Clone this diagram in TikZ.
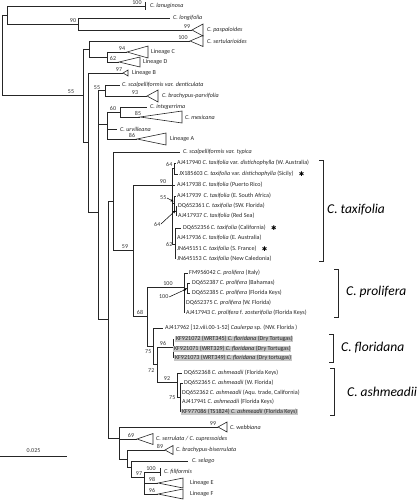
\documentclass[tikz,border=0pt]{standalone}
\usepackage{fontspec}
\setmainfont{Carlito}
\newfontfamily\symfont{DejaVu Sans}
\usetikzlibrary{arrows.meta,positioning}
\tikzset{
  br/.style={line width=0.6pt, draw=black!85},
  tip/.style={anchor=west, inner sep=0pt, font=\fontsize{6.1}{6.5}\selectfont, text=black!85},
  hltip/.style={tip, fill=black!22, inner xsep=0.8pt, inner ysep=0.6pt},
  bs/.style={anchor=south, inner sep=0.5pt, font=\fontsize{6}{6.5}\selectfont, text=black!80},
  bsl/.style={bs, anchor=east},
  big/.style={anchor=west, inner sep=0pt, font=\fontsize{13.5}{15}\selectfont\itshape},
  star/.style={inner sep=0pt, font=\symfont\fontsize{6.5}{6.5}\selectfont},
  pointer/.style={-{Stealth[length=3pt,width=2.6pt]}, line width=0.5pt}
}
\begin{document}
\begin{tikzpicture}[x=1pt,y=-1pt]
  \useasboundingbox (0,0) rectangle (416,500);
  % backbone
  \draw[br] (2,15) -- (2,95);
  \draw[br] (2,15) -- (7,15);
  \draw[br] (7,6) -- (7,24);
  \draw[br] (7,6) -- (145,6);
  \draw[br] (145,2) -- (145,10);
  \draw[br] (7,24) -- (78,24);
  \draw[br] (78,18) -- (78,30);
  \draw[br] (78,18) -- (170,18);
  \draw[br] (78,30) -- (192,30);
  \draw[br] (192,30) -- (203,24) -- (203,36) -- cycle;
  \draw[br] (2,95) -- (83,95);
  \draw[br] (83,49) -- (83,142);
  \draw[br] (83,49) -- (89,49);
  \draw[br] (89,41) -- (89,57);
  \draw[br] (89,41) -- (190,41);
  \draw[br] (190,41) -- (203,35.5) -- (203,46.5) -- cycle;
  \draw[br] (89,57) -- (107,57);
  \draw[br] (107,52) -- (107,62);
  \draw[br] (107,52) -- (127,52);
  \draw[br] (127,52) -- (148,46) -- (148,58) -- cycle;
  \draw[br] (107,62) -- (119,62);
  \draw[br] (119,62) -- (140,57) -- (140,67) -- cycle;
  \draw[br] (83,142) -- (88,142);
  \draw[br] (88,73) -- (88,212);
  \draw[br] (88,73) -- (123,73);
  \draw[br] (123,73) -- (128,70) -- (128,76) -- cycle;
  \draw[br] (88,212) -- (98,212);
  \draw[br] (98,90.5) -- (98,319);
  \draw[br] (98,90.5) -- (105,90.5);
  \draw[br] (105,85) -- (105,96);
  \draw[br] (105,85) -- (120,85);
  \draw[br] (105,96) -- (147,96);
  \draw[br] (147,96) -- (158,90) -- (158,102) -- cycle;
  \draw[br] (98,124) -- (107,124);
  \draw[br] (107,112) -- (107,139);
  \draw[br] (107,112) -- (120,112);
  \draw[br] (120,107) -- (120,117);
  \draw[br] (120,107) -- (147,107);
  \draw[br] (120,117) -- (140,117);
  \draw[br] (140,117) -- (182,111) -- (182,123) -- cycle;
  \draw[br] (107,129) -- (117,129);
  \draw[br] (107,139) -- (137,139);
  \draw[br] (137,139) -- (166,133) -- (166,145) -- cycle;
  \draw[br] (98,319) -- (108,319);
  \draw[br] (108,201) -- (108,438);
  \draw[br] (108,201) -- (113,201);
  \draw[br] (113,152) -- (113,250);
  \draw[br] (113,152) -- (180,152);
  \draw[br] (113,250) -- (133,250);
  \draw[br] (133,185) -- (133,316);
  % taxifolia
  \draw[br] (133,185) -- (172,185);
  \draw[br] (172,168.5) -- (172,244);
  \draw[br] (172,168.5) -- (174,168.5);
  \draw[br] (174,163) -- (174,174);
  \draw[br] (174,163) -- (175.5,163);
  \draw[br] (174,174) -- (178,174);
  \draw[br] (172,185) -- (175,185);
  \draw[br] (172,203.5) -- (174,203.5);
  \draw[br] (174,196) -- (174,211);
  \draw[br] (174,196) -- (175.5,196);
  \draw[br] (174,211) -- (176,211);
  \draw[br] (176,206) -- (176,216);
  \draw[br] (172,244) -- (175,244);
  \draw[br] (175,228) -- (175,259);
  \draw[br] (175,228) -- (181,228);
  % prolifera
  \draw[br] (133,316) -- (147,316);
  \draw[br] (147,287) -- (147,346);
  \draw[br] (147,287) -- (184,287);
  \draw[br] (184,273) -- (184,313);
  \draw[br] (184,273) -- (188,273);
  \draw[br] (184,288) -- (187,288);
  \draw[br] (187,283) -- (187,293);
  \draw[br] (187,283) -- (190,283);
  \draw[br] (187,293) -- (190,293);
  % floridana, ashmeadii
  \draw[br] (147,346) -- (153,346);
  \draw[br] (153,328) -- (153,364);
  \draw[br] (153,328) -- (163,328);
  \draw[br] (153,364) -- (157,364);
  \draw[br] (157,347) -- (157,382);
  \draw[br] (157,347) -- (173,347);
  \draw[br] (173,339) -- (173,358);
  \draw[br] (157,382) -- (177,382);
  \draw[br] (177,373) -- (177,397);
  \draw[br] (177,373) -- (182,373);
  \draw[br] (177,397) -- (180,397);
  \draw[br] (180,383) -- (180,412);
  \draw[br] (180,383) -- (183,383);
  % lower clades
  \draw[br] (108,438) -- (119,438);
  \draw[br] (119,427) -- (119,459);
  \draw[br] (119,427) -- (218,427);
  \draw[br] (218,427) -- (227,422) -- (227,432) -- cycle;
  \draw[br] (119,439) -- (137,439);
  \draw[br] (137,439) -- (153,433.5) -- (153,444.5) -- cycle;
  \draw[br] (119,459) -- (127,459);
  \draw[br] (127,450) -- (127,467);
  \draw[br] (127,450) -- (165,450);
  \draw[br] (165,450) -- (173,445.5) -- (173,454.5) -- cycle;
  \draw[br] (127,467) -- (131,467);
  \draw[br] (131,461) -- (131,477);
  \draw[br] (131,461) -- (188,461);
  \draw[br] (131,477) -- (144,477);
  \draw[br] (144,472) -- (144,494);
  \draw[br] (144,472) -- (160,472);
  \draw[br] (160,468) -- (160,476);
  \draw[br] (144,483) -- (158,483);
  \draw[br] (158,483) -- (183,478) -- (183,488) -- cycle;
  \draw[br] (144,494) -- (158,494);
  \draw[br] (158,494) -- (183,489) -- (183,499) -- cycle;
  % scale bar
  \draw[br] (0,456) -- (67,456);
  \node[bs] (sc) at (33.5,453) {0.025};

  % tip labels, upper part
  \node[tip] (lan) at (150,6) {\itshape C. lanuginosa};
  \node[tip] (lon) at (173,18) {\itshape C. longifolia};
  \node[tip] (pas) at (207,30) {\itshape C. paspaloides};
  \node[tip] (ser) at (207,41) {\itshape C. sertularioides};
  \node[tip] (linC) at (151,52) {Lineage C};
  \node[tip] (linD) at (143,62) {Lineage D};
  \node[tip] (linB) at (132,73) {Lineage B};
  \node[tip] (den) at (122,85) {\itshape C. scalpelliformis var. denticulata};
  \node[tip] (bpa) at (162,96) {\itshape C. brachypus-parvifolia};
  \node[tip] (int) at (150,107) {\itshape C. integerrima};
  \node[tip] (mex) at (185,117) {\itshape C. mexicana};
  \node[tip] (urv) at (120,129) {\itshape C. urvilleana};
  \node[tip] (linA) at (170,139) {Lineage A};
  \node[tip] (typ) at (183,152) {\itshape C. scalpelliformis var. typica};
  % taxifolia tips
  \node[tip] (tx1) at (177,163) {AJ417940 \textit{C. taxifolia} var. \textit{distichophylla} (W. Australia)};
  \node[tip] (tx2) at (179,174) {JX185603 \textit{C. taxifolia} var. \textit{distichophylla} (Sicily)};
  \node[tip] (tx3) at (177,185) {AJ417938 \textit{C. taxifolia} (Puerto Rico)};
  \node[tip] (tx4) at (177,196) {AJ417939\, \textit{C. taxifolia} (E. South Africa)};
  \node[tip] (tx5) at (178,206) {DQ652361 \textit{C. taxifolia} (SW. Florida)};
  \node[tip] (tx6) at (178,216) {AJ417937 \textit{C. taxifolia} (Red Sea)};
  \node[tip] (tx7) at (183,228) {DQ652356 \textit{C. taxifolia} (California)};
  \node[tip] (tx8) at (177,238) {AJ417936 \textit{C. taxifolia} (E. Australia)};
  \node[tip] (tx9) at (177,249) {JN645151 \textit{C. taxifolia} (S. France)};
  \node[tip] (tx10) at (177,259) {JN645153 \textit{C. taxifolia} (New Caledonia)};
  \node[star, right=5pt of tx2] (s1) {✱};
  \node[star, right=5pt of tx7] (s2) {✱};
  \node[star, right=5pt of tx9] (s3) {✱};
  % prolifera tips
  \node[tip] (pr1) at (189,273) {FM956042 \textit{C. prolifera} (Italy)};
  \node[tip] (pr2) at (192,283) {DQ652387 \textit{C. prolifera} (Bahamas)};
  \node[tip] (pr3) at (192,293) {DQ652385 \textit{C. prolifera} (Florida Keys)};
  \node[tip] (pr4) at (186,303) {DQ652375 \textit{C. prolifera} (W. Florida)};
  \node[tip] (pr5) at (186,313) {AJ417943 \textit{C. prolifera} f. \textit{zosterifolia} (Florida Keys)};
  \node[tip] (cs) at (165,328) {AJ417962 [12.viii.00-1-52] \textit{Caulerpa} sp. (NW. Florida )};
  % floridana tips
  \node[hltip] (fl1) at (175,339) {KF921072 (WRT345) \textit{C. floridana} (Dry Tortugas)};
  \node[hltip] (fl2) at (173,349) {KF921071 (WRT329) \textit{C. floridana} (Dry Tortugas)};
  \node[hltip] (fl3) at (174,358) {KF921073 (WRT349) \textit{C. floridana} (Dry tortugas)};
  % ashmeadii tips
  \node[tip] (as1) at (184,373) {DQ652368 \textit{C. ashmeadii} (Florida Keys)};
  \node[tip] (as2) at (184,383) {DQ652365 \textit{C. ashmeadii} (W. Florida)};
  \node[tip] (as3) at (182,393) {DQ652362 \textit{C. ashmeadii} (Aqu. trade, California)};
  \node[tip] (as4) at (182,402) {AJ417941 \textit{C. ashmeadii} (Florida Keys)};
  \node[hltip] (as5) at (181,412) {KF977086 (TS1824) \textit{C. ashmeadii} (Florida Keys)};
  % tip labels, lower part
  \node[tip] (web) at (230,427) {\itshape C. webbiana};
  \node[tip] (srr) at (156,439) {\itshape C. serrulata / C. cupressoides};
  \node[tip] (bbi) at (176,450) {\itshape C. brachypus-biserrulata};
  \node[tip] (sel) at (192,461) {\itshape C. selago};
  \node[tip] (fil) at (164,472) {\itshape C. filiformis};
  \node[tip] (linE) at (190,483) {Lineage E};
  \node[tip] (linF) at (190,494) {Lineage F};

  % support values
  \node[bs] at (137,5.5) {100};
  \node[bs] at (73,23.5) {90};
  \node[bs] at (187,29.5) {99};
  \node[bs] at (183,40.5) {100};
  \node[bs] at (122,51.5) {94};
  \node[bs] at (113,61.5) {62};
  \node[bs] at (119,72.5) {97};
  \node[bs] at (71,94.5) {55};
  \node[bs] at (97,90) {55};
  \node[bs] at (135,95.5) {93};
  \node[bs] at (113,111.5) {60};
  \node[bs] at (138,116.5) {85};
  \node[bs] at (132,138.5) {86};
  \node[bs] at (125,249.5) {59};
  \node[bs] at (163,184.5) {90};
  \node[bsl] at (173,164.5) {64};
  \node[bsl] (a55) at (167,198) {55};
  \node[bsl] (a64) at (161,224) {64};
  \node[bsl] at (173,244.5) {62};
  \node[bs] at (140,315.5) {68};
  \node[bs] at (168,286.5) {100};
  \node[bsl] (a100) at (169,297) {100};
  \node[bsl] at (152,352) {75};
  \node[bs] at (163,346.5) {96};
  \node[bsl] at (155,371) {72};
  \node[bs] at (167,381.5) {92};
  \node[bsl] at (176,398) {75};
  \node[bs] at (213,426.5) {99};
  \node[bs] at (131,438.5) {69};
  \node[bs] at (160,449.5) {89};
  \node[bs] at (139,476.5) {97};
  \node[bs] at (151,471.5) {100};
  \node[bs] at (152,482.5) {98};
  \node[bs] at (152,493.5) {96};
  % pointers to short branches
  \draw[pointer] (a55.east) -- (173.6,201.5);
  \draw[pointer] (a64.east) -- (175.5,210.5);
  \draw[pointer] (a100.east) -- (186.5,289);

  % clade brackets
  \draw[br] (319,160) -- (323,160) -- (323,261) -- (319,261);
  \draw[br] (334,269) -- (338,269) -- (338,317) -- (334,317);
  \draw[br] (329,334) -- (333,334) -- (333,362) -- (329,362);
  \draw[br] (330,368) -- (334,368) -- (334,415) -- (330,415);
  \node[big] (ctax) at (327,210) {C. taxifolia};
  \node[big] (cpro) at (346,292) {C. prolifera};
  \node[big] (cflo) at (341,348) {C. floridana};
  \node[big] (cash) at (347,392) {C. ashmeadii};
\end{tikzpicture}
\end{document}
